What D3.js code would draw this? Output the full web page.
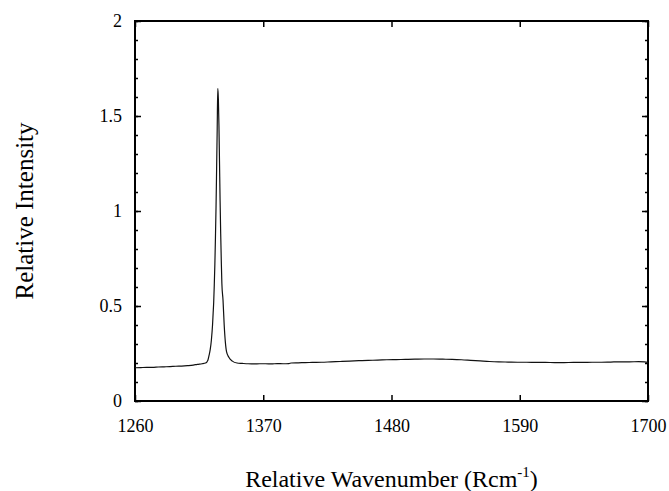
<!DOCTYPE html>
<html>
<head>
<meta charset="utf-8">
<script src="https://cdn.jsdelivr.net/npm/d3@7"></script>
</head>
<body style="margin:0;background:#fff">
<script>
// spectrum (wavenumber in Rcm-1, relative intensity)
const wavenumber = [
  1260, 1265, 1270, 1275, 1280, 1285, 1290, 1295, 1300, 1305, 1310, 1313.5, 1317.5,
  1320.5, 1322.5, 1323.5, 1324.5, 1325.5, 1326.5, 1327, 1327.5, 1328, 1328.5, 1329, 1329.5, 1330,
  1330.5,
  1331, 1331.5, 1332, 1332.5, 1333, 1333.5, 1334, 1334.5, 1335.5, 1336.5, 1337.5, 1338.5,
  1340.5, 1343.5, 1347.5, 1352, 1357, 1362, 1367, 1372, 1377, 1382, 1387, 1392, 1394,
  1400, 1406, 1412, 1420, 1428, 1436, 1444, 1452, 1460, 1468, 1476, 1484, 1492, 1500,
  1508, 1516, 1524, 1532, 1540, 1548, 1556, 1564, 1572, 1580, 1588, 1596, 1604, 1612,
  1620, 1628, 1636, 1644, 1652, 1660, 1668, 1676, 1684, 1692, 1697, 1700
]
const intensity = [
  0.175, 0.176, 0.177, 0.177, 0.179, 0.180, 0.181, 0.183, 0.184, 0.186, 0.189, 0.193, 0.196,
  0.200, 0.215, 0.24, 0.27, 0.32, 0.40, 0.46, 0.52, 0.61, 0.72, 0.86, 1.02, 1.22,
  1.43,
  1.645, 1.59, 1.45, 1.25, 1.05, 0.88, 0.74, 0.62, 0.53, 0.40, 0.31, 0.26,
  0.23, 0.21, 0.200, 0.198, 0.196, 0.195, 0.196, 0.196, 0.195, 0.197, 0.196, 0.197, 0.200,
  0.201, 0.202, 0.203, 0.204, 0.206, 0.208, 0.210, 0.212, 0.214, 0.215, 0.217, 0.218, 0.219, 0.220,
  0.221, 0.221, 0.220, 0.219, 0.217, 0.214, 0.211, 0.208, 0.206, 0.205, 0.204, 0.204, 0.203, 0.203,
  0.202, 0.202, 0.203, 0.203, 0.204, 0.204, 0.205, 0.206, 0.206, 0.207, 0.206, 0.203
]
const xTicks = [1260, 1370, 1480, 1590, 1700]
const yTicks = [0, 0.5, 1, 1.5, 2]
const yMinorTicks = d3.range(0, 2.01, 0.1)

const FONT = "'Liberation Serif', 'Times New Roman', serif"
let W = 669, H = 491
let margin = {top: 21, right: 21, bottom: 90, left: 135}

let svg = d3.select("body").append("svg")
    .attr("width", W)
    .attr("height", H)
    .style("font-family", FONT)

let x = d3.scaleLinear().domain([1260, 1700]).range([margin.left, W - margin.right])
let y = d3.scaleLinear().domain([0, 2]).range([H - margin.bottom, margin.top])

// ticks on all four sides, pointing in
function tickAxis(axis, labels, size, pad){
    return axis.tickSizeInner(-size).tickSizeOuter(0).tickPadding(pad)
        .tickFormat(labels ? d3.format("") : "")
}

svg.append("g")
    .attr("transform", "translate(0," + y(0) + ")")
    .call(tickAxis(d3.axisBottom(x).tickValues(xTicks), true, 6, 18))
svg.append("g")
    .attr("transform", "translate(0," + y(2) + ")")
    .call(tickAxis(d3.axisTop(x).tickValues(xTicks), false, 6, 0))
svg.append("g")
    .attr("transform", "translate(" + x(1260) + ",0)")
    .call(tickAxis(d3.axisLeft(y).tickValues(yTicks), true, 6, 13))
svg.append("g")
    .attr("transform", "translate(" + x(1260) + ",0)")
    .call(tickAxis(d3.axisLeft(y).tickValues(yMinorTicks), false, 3, 0))
svg.append("g")
    .attr("transform", "translate(" + x(1700) + ",0)")
    .call(tickAxis(d3.axisRight(y).tickValues(yTicks), false, 6, 0))
svg.append("g")
    .attr("transform", "translate(" + x(1700) + ",0)")
    .call(tickAxis(d3.axisRight(y).tickValues(yMinorTicks), false, 3, 0))

svg.selectAll(".domain").remove()
svg.selectAll("g").attr("font-family", null)
svg.selectAll(".tick line").attr("stroke", "#000").attr("stroke-width", 1.5)
svg.selectAll(".tick text")
    .style("font-family", FONT)
    .style("font-size", "18px")
    .attr("fill", "#000")

// frame
svg.append("rect")
    .attr("x", x(1260))
    .attr("y", y(2))
    .attr("width", x(1700) - x(1260))
    .attr("height", y(0) - y(2))
    .attr("fill", "none")
    .attr("stroke", "#000")
    .attr("stroke-width", 2)

// spectrum
let line = d3.line()
    .x((d, i) => x(wavenumber[i]))
    .y(d => y(d))
    .curve(d3.curveMonotoneX)

svg.append("path")
    .datum(intensity)
    .attr("d", line)
    .attr("fill", "none")
    .attr("stroke", "#111")
    .attr("stroke-width", 1.2)

// axis titles
let xt = svg.append("text")
    .attr("x", (x(1260) + x(1700)) / 2)
    .attr("y", 487)
    .attr("text-anchor", "middle")
    .style("font-family", FONT)
    .style("font-size", "24px")
xt.append("tspan").text("Relative Wavenumber (Rcm")
xt.append("tspan").attr("dy", -10).style("font-size", "15px").text("-1")
xt.append("tspan").attr("dy", 10).text(")")

svg.append("text")
    .attr("transform", "translate(33," + (y(0) + y(2)) / 2 + ") rotate(-90)")
    .attr("text-anchor", "middle")
    .style("font-family", FONT)
    .style("font-size", "25px")
    .text("Relative Intensity")
</script>
</body>
</html>
